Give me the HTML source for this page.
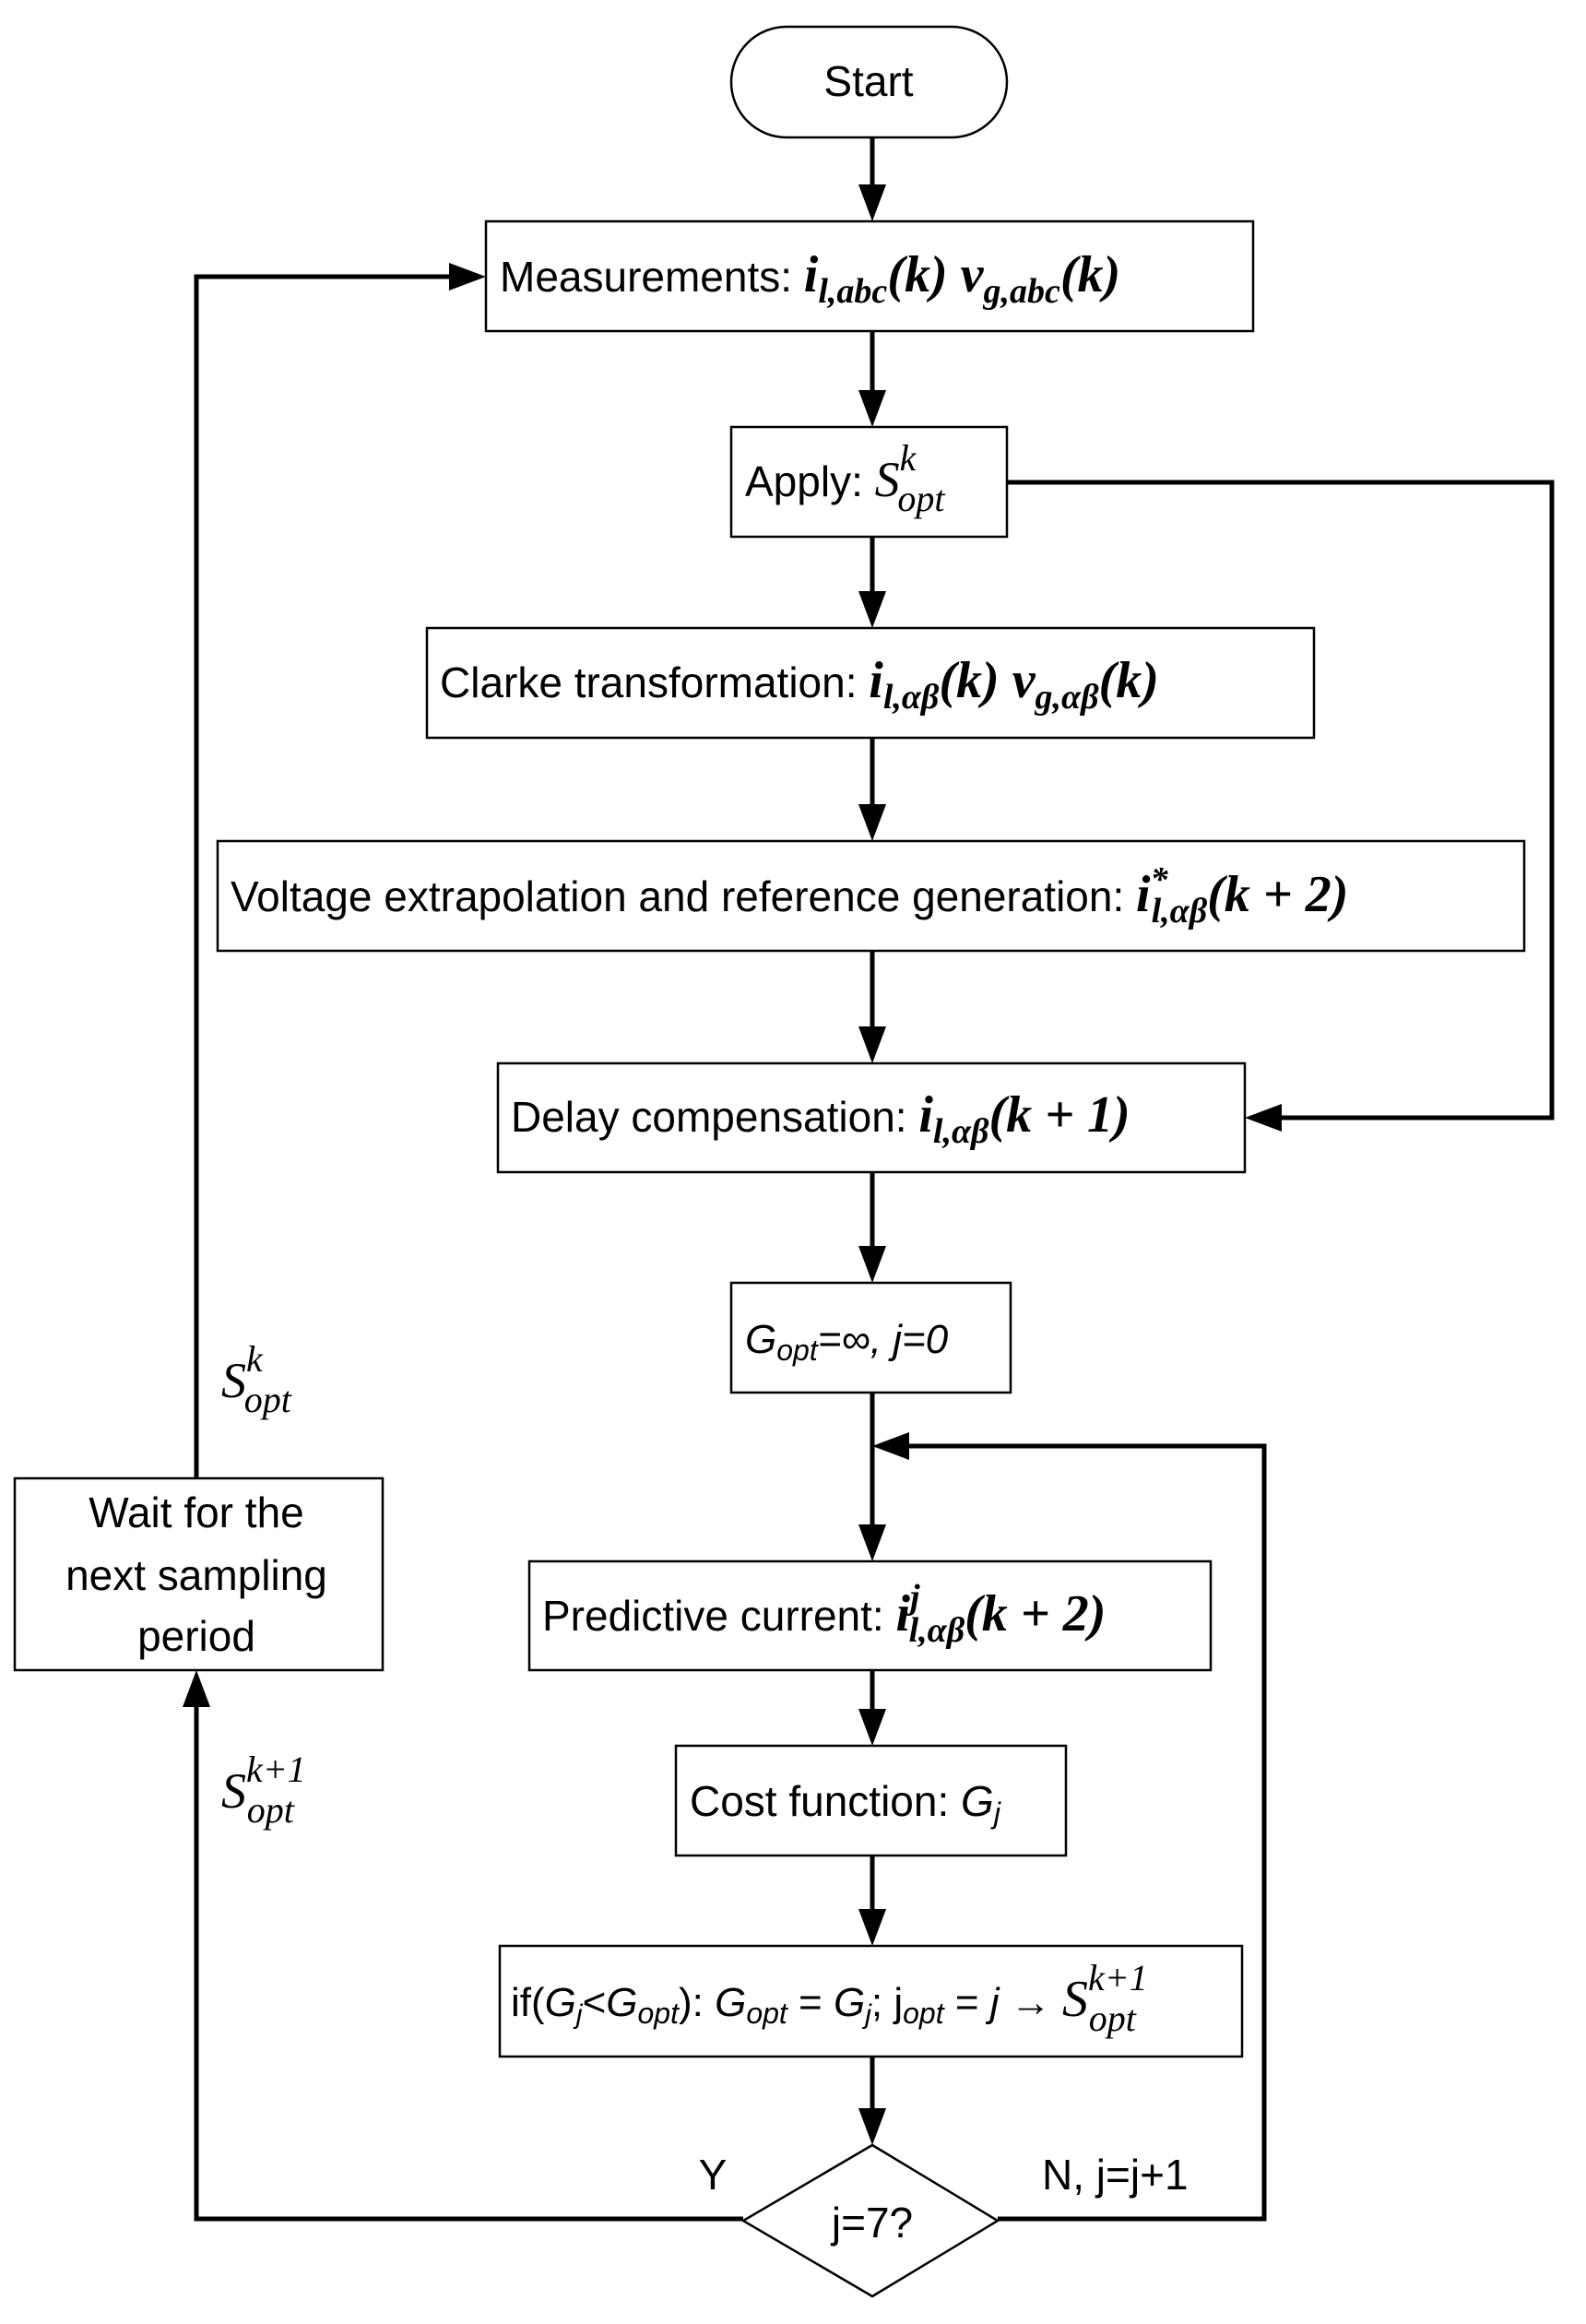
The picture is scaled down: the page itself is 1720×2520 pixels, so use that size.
<!DOCTYPE html>
<html><head><meta charset="utf-8"><style>
html,body{margin:0;padding:0;background:#fff}
svg{display:block}
.t{font-family:"Liberation Sans","DejaVu Sans",sans-serif;font-size:46px;fill:#000}
.m{font-family:"Liberation Serif",serif;font-style:italic;font-weight:bold;fill:#000}
.s{font-family:"Liberation Serif",serif;font-style:italic;fill:#000}
</style></head><body>
<svg width="1720" height="2520" viewBox="0 0 1720 2520" xmlns="http://www.w3.org/2000/svg">
<g fill="none" stroke="#000" stroke-width="2.5">
<rect x="793" y="29" width="299" height="120" rx="60" ry="60"/>
<rect x="527" y="240" width="832" height="119"/>
<rect x="793" y="463" width="299" height="119"/>
<rect x="463" y="681" width="962" height="119"/>
<rect x="236" y="912" width="1417" height="119"/>
<rect x="540" y="1153" width="810" height="118"/>
<rect x="793" y="1391" width="303" height="119"/>
<rect x="574" y="1693" width="739" height="118"/>
<rect x="733" y="1893" width="423" height="119"/>
<rect x="542" y="2110" width="805" height="120"/>
<polygon points="946,2326 1082,2408 946,2490 806,2408"/>
<rect x="16" y="1603" width="399" height="208"/>
</g>
<g fill="none" stroke="#000" stroke-width="5">
<line x1="946" y1="149" x2="946" y2="205"/>
<line x1="946" y1="359" x2="946" y2="428"/>
<line x1="946" y1="582" x2="946" y2="646"/>
<line x1="946" y1="800" x2="946" y2="877"/>
<line x1="946" y1="1031" x2="946" y2="1118"/>
<line x1="946" y1="1271" x2="946" y2="1356"/>
<line x1="946" y1="1510" x2="946" y2="1658"/>
<line x1="946" y1="1811" x2="946" y2="1858"/>
<line x1="946" y1="2012" x2="946" y2="2075"/>
<line x1="946" y1="2230" x2="946" y2="2291"/>
<polyline points="1092,523 1683,523 1683,1212 1385,1212"/>
<polyline points="1082,2406 1371,2406 1371,1568 981,1568"/>
<polyline points="806,2406 213,2406 213,1846"/>
<polyline points="213,1603 213,300 492,300"/>
</g>
<g fill="#000">
<polygon points="931,200 961,200 946,240"/>
<polygon points="931,423 961,423 946,463"/>
<polygon points="931,641 961,641 946,681"/>
<polygon points="931,872 961,872 946,912"/>
<polygon points="931,1113 961,1113 946,1153"/>
<polygon points="931,1351 961,1351 946,1391"/>
<polygon points="931,1653 961,1653 946,1693"/>
<polygon points="931,1853 961,1853 946,1893"/>
<polygon points="931,2070 961,2070 946,2110"/>
<polygon points="931,2286 961,2286 946,2326"/>
<polygon points="1390,1197 1390,1227 1350,1212"/>
<polygon points="986,1553 986,1583 946,1568"/>
<polygon points="198,1851 228,1851 213,1811"/>
<polygon points="487,285 487,315 527,300"/>
</g>
<text class="t" x="942" y="104" text-anchor="middle">Start</text>
<text x="542" y="316"><tspan class="t">Measurements:  </tspan><tspan class="m" font-size="56">i</tspan><tspan class="m" font-size="38" dy="12">l,abc</tspan><tspan class="m" font-size="56" dy="-12">(k) v</tspan><tspan class="m" font-size="38" dy="12">g,abc</tspan><tspan class="m" font-size="56" dy="-12">(k)</tspan></text>
<text x="808" y="538"><tspan class="t">Apply: </tspan><tspan class="s" font-size="54">S</tspan><tspan class="s" font-size="40" dy="-28">k</tspan><tspan class="s" font-size="40" dx="-20" dy="44">opt</tspan></text>
<text x="477" y="756"><tspan class="t">Clarke transformation: </tspan><tspan class="m" font-size="56">i</tspan><tspan class="m" font-size="38" dy="12">l,αβ</tspan><tspan class="m" font-size="56" dy="-12">(k)  v</tspan><tspan class="m" font-size="38" dy="12">g,αβ</tspan><tspan class="m" font-size="56" dy="-12">(k)</tspan></text>
<text x="250" y="988"><tspan class="t">Voltage extrapolation and reference generation: </tspan><tspan class="m" font-size="56">i</tspan><tspan class="m" font-size="38" dy="-22">*</tspan><tspan class="m" font-size="38" dx="-18" dy="34">l,αβ</tspan><tspan class="m" font-size="56" dy="-12">(k + 2)</tspan></text>
<text x="554" y="1227"><tspan class="t">Delay compensation:  </tspan><tspan class="m" font-size="56">i</tspan><tspan class="m" font-size="38" dy="12">l,αβ</tspan><tspan class="m" font-size="56" dy="-12">(k + 1)</tspan></text>
<text x="808" y="1467" font-family="Liberation Sans,sans-serif" font-style="italic" font-size="44">G<tspan font-size="32" dy="8">opt</tspan><tspan dy="-8">=∞, j=0</tspan></text>
<text x="588" y="1768"><tspan class="t">Predictive current: </tspan><tspan class="m" font-size="56">i</tspan><tspan class="m" font-size="38" dy="-24">j</tspan><tspan class="m" font-size="38" dx="-12" dy="36">l,αβ</tspan><tspan class="m" font-size="56" dy="-12">(k + 2)</tspan></text>
<text x="748" y="1969"><tspan class="t">Cost function: </tspan><tspan font-family="Liberation Sans,sans-serif" font-style="italic" font-size="46">G</tspan><tspan font-family="Liberation Sans,sans-serif" font-style="italic" font-size="32" dy="8">j</tspan></text>
<text x="554" y="2186" font-family="Liberation Sans,sans-serif" font-size="44">if(<tspan font-style="italic">G</tspan><tspan font-style="italic" font-size="30" dy="8">j</tspan><tspan dy="-8">&lt;</tspan><tspan font-style="italic">G</tspan><tspan font-style="italic" font-size="32" dy="8">opt</tspan><tspan dy="-8">): </tspan><tspan font-style="italic">G</tspan><tspan font-style="italic" font-size="32" dy="8">opt</tspan><tspan dy="-8"> = </tspan><tspan font-style="italic">G</tspan><tspan font-style="italic" font-size="30" dy="8">j</tspan><tspan dy="-8">; j</tspan><tspan font-style="italic" font-size="32" dy="8">opt</tspan><tspan dy="-8"> = </tspan><tspan font-style="italic">j</tspan><tspan font-weight="bold"> → </tspan><tspan class="s" font-size="56">S</tspan><tspan class="s" font-size="40" dy="-28">k+1</tspan><tspan class="s" font-size="40" dx="-64" dy="44">opt</tspan></text>
<text class="t" x="946" y="2426" text-anchor="middle">j=7?</text>
<text class="t" x="773" y="2374" text-anchor="middle">Y</text>
<text class="t" x="1130" y="2374">N, j=j+1</text>
<text class="t" x="213" y="1656" text-anchor="middle">Wait for the</text>
<text class="t" x="213" y="1724" text-anchor="middle">next sampling</text>
<text class="t" x="213" y="1790" text-anchor="middle">period</text>
<text x="240" y="1515"><tspan class="s" font-size="54">S</tspan><tspan class="s" font-size="40" dy="-28">k</tspan><tspan class="s" font-size="40" dx="-20" dy="44">opt</tspan></text>
<text x="240" y="1960"><tspan class="s" font-size="54">S</tspan><tspan class="s" font-size="40" dy="-28">k+1</tspan><tspan class="s" font-size="40" dx="-64" dy="44">opt</tspan></text>
</svg>
</body></html>
